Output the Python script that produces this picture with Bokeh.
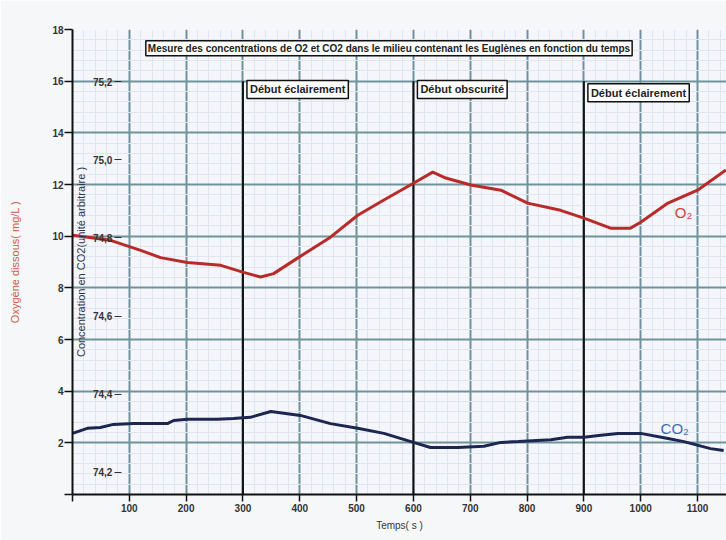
from bokeh.plotting import figure
from bokeh.models import (LinearAxis, Range1d, SingleIntervalTicker, FixedTicker,
                          CustomJSTickFormatter, Label)
from bokeh.embed import file_html
from bokeh.resources import INLINE

# ---------------- data ----------------
o2_t = [0, 30, 67, 120, 155, 202, 261, 301, 331, 354, 396, 454, 502, 548, 600,
        634, 657, 701, 754, 801, 859, 900, 947, 982, 1000, 1048, 1100, 1150]
o2_v = [10.04, 9.95, 9.84, 9.45, 9.17, 8.98, 8.87, 8.60, 8.42, 8.55, 9.15, 9.96,
        10.81, 11.40, 12.05, 12.48, 12.25, 11.98, 11.78, 11.28, 11.00, 10.70,
        10.31, 10.31, 10.54, 11.28, 11.78, 12.56]

co2_t = [0, 26, 49, 72, 107, 167, 178, 202, 255, 283, 313, 349, 401, 454, 502,
         548, 600, 630, 678, 724, 754, 785, 842, 871, 900, 930, 960, 1000, 1048,
         1076, 1123, 1146]
co2_v = [74.300, 74.313, 74.315, 74.323, 74.325, 74.325, 74.333, 74.336, 74.336,
         74.338, 74.341, 74.356, 74.346, 74.325, 74.313, 74.300, 74.277, 74.264,
         74.264, 74.267, 74.277, 74.279, 74.284, 74.290, 74.290, 74.295, 74.300,
         74.300, 74.287, 74.279, 74.261, 74.256]

event_t = [300, 600, 900]
event_labels = ["Début éclairement", "Début obscurité", "Début éclairement"]
co2_ticks = [74.2, 74.4, 74.6, 74.8, 75.0, 75.2]

title_text = ("Mesure des concentrations de O2 et CO2 dans le milieu contenant "
              "les Euglènes en fonction du temps")

FONT = "Liberation Sans"

# ---------------- figure ----------------
p = figure(width=726, height=540, output_backend="svg", toolbar_location=None,
           x_range=Range1d(0, 1151), y_range=Range1d(0, 18),
           min_border_left=72, min_border_right=0, min_border_top=29,
           min_border_bottom=46, x_axis_location=None, y_axis_location=None)
p.background_fill_color = "#f5f6fb"
p.border_fill_color = "#f6f7f9"
p.outline_line_color = None

p.extra_y_ranges = {"co2": Range1d(74.1437, 75.333)}

xt = SingleIntervalTicker(interval=100, num_minor_ticks=5)
yt = SingleIntervalTicker(interval=2, num_minor_ticks=5)

xaxis = LinearAxis(ticker=xt, axis_label="Temps( s )")
xaxis.major_label_overrides = {0: ""}
p.add_layout(xaxis, "below")

yaxis = LinearAxis(ticker=yt, axis_label="Oxygène dissous( mg/L )")
yaxis.major_label_overrides = {0: ""}
p.add_layout(yaxis, "left")

for ax in (xaxis, yaxis):
    ax.axis_line_color = "#111111"
    ax.axis_line_width = 2
    ax.major_tick_line_color = "#111111"
    ax.major_tick_line_width = 1.5
    ax.major_tick_in = 0
    ax.minor_tick_in = 0
    ax.minor_tick_out = 0
    ax.major_label_text_font = FONT
    ax.major_label_text_font_style = "bold"
    ax.major_label_text_font_size = "10px"
    ax.major_label_text_color = "#333333"
    ax.axis_label_text_font = FONT
    ax.axis_label_text_font_style = "normal"

xaxis.major_tick_out = 7
xaxis.major_label_standoff = 2
xaxis.axis_label_standoff = 5
xaxis.axis_label_text_font_size = "10px"
xaxis.axis_label_text_color = "#333333"

yaxis.major_tick_out = 8
yaxis.major_label_standoff = 1
yaxis.axis_label_standoff = 28
yaxis.axis_label_text_font_size = "11px"
yaxis.axis_label_text_color = "#cc5a48"

co2_axis = LinearAxis(y_range_name="co2", fixed_location=86,
                      ticker=FixedTicker(ticks=co2_ticks),
                      formatter=CustomJSTickFormatter(
                          code="return tick.toFixed(1).replace('.', ',')"),
                      axis_label="Concentration en CO2(unité arbitraire )")
co2_axis.axis_line_color = None
co2_axis.major_tick_line_color = "#333333"
co2_axis.major_tick_in = 0
co2_axis.major_tick_out = 7
co2_axis.minor_tick_in = 0
co2_axis.minor_tick_out = 0
co2_axis.major_label_standoff = 2
co2_axis.major_label_text_font = FONT
co2_axis.major_label_text_font_style = "bold"
co2_axis.major_label_text_font_size = "10px"
co2_axis.major_label_text_color = "#333333"
co2_axis.axis_label_standoff = 3
co2_axis.axis_label_text_font = FONT
co2_axis.axis_label_text_font_style = "normal"
co2_axis.axis_label_text_font_size = "11px"
co2_axis.axis_label_text_color = "#2e3648"
p.add_layout(co2_axis, "left")

# grids
p.xgrid.ticker = xt
p.ygrid.ticker = yt
for g in (p.xgrid, p.ygrid):
    g.grid_line_color = "#6f939c"
    g.grid_line_width = 2
    g.minor_grid_line_color = "#dfe6f0"
    g.minor_grid_line_width = 1

# event lines
p.segment(x0=event_t, y0=[0] * 3, x1=event_t, y1=[16.0] * 3,
          line_color="#111111", line_width=2)

# curves
p.line(o2_t, o2_v, line_color="#b92a29", line_width=3)
p.line(co2_t, co2_v, y_range_name="co2", line_color="#1c2650", line_width=3)

# event labels
for t, txt, yy in zip(event_t, event_labels, [15.68, 15.68, 15.55]):
    p.add_layout(Label(x=t, y=yy, text=txt, x_offset=4, text_align="left",
                       text_baseline="middle", text_font=FONT,
                       text_font_style="bold", text_font_size="11px",
                       text_color="#222222", padding=3,
                       background_fill_color="#ffffff",
                       border_line_color="#111111", border_line_width=1.5))

# title box
p.add_layout(Label(x=557, y=17.27, text=title_text, text_align="center",
                   text_baseline="middle", text_font=FONT,
                   text_font_style="bold", text_font_size="10px",
                   text_color="#222222", padding=2,
                   background_fill_color="#ffffff",
                   border_line_color="#111111", border_line_width=1.5))

# series names
p.add_layout(Label(x=1060, y=10.9, text="O₂", text_baseline="middle",
                   text_font=FONT, text_font_size="15px", text_color="#c8473d"))
p.add_layout(Label(x=1035, y=2.55, text="CO₂", text_baseline="middle",
                   text_font=FONT, text_font_size="15px", text_color="#3d6eb0"))

open("out.html", "w").write(file_html(p, INLINE))
